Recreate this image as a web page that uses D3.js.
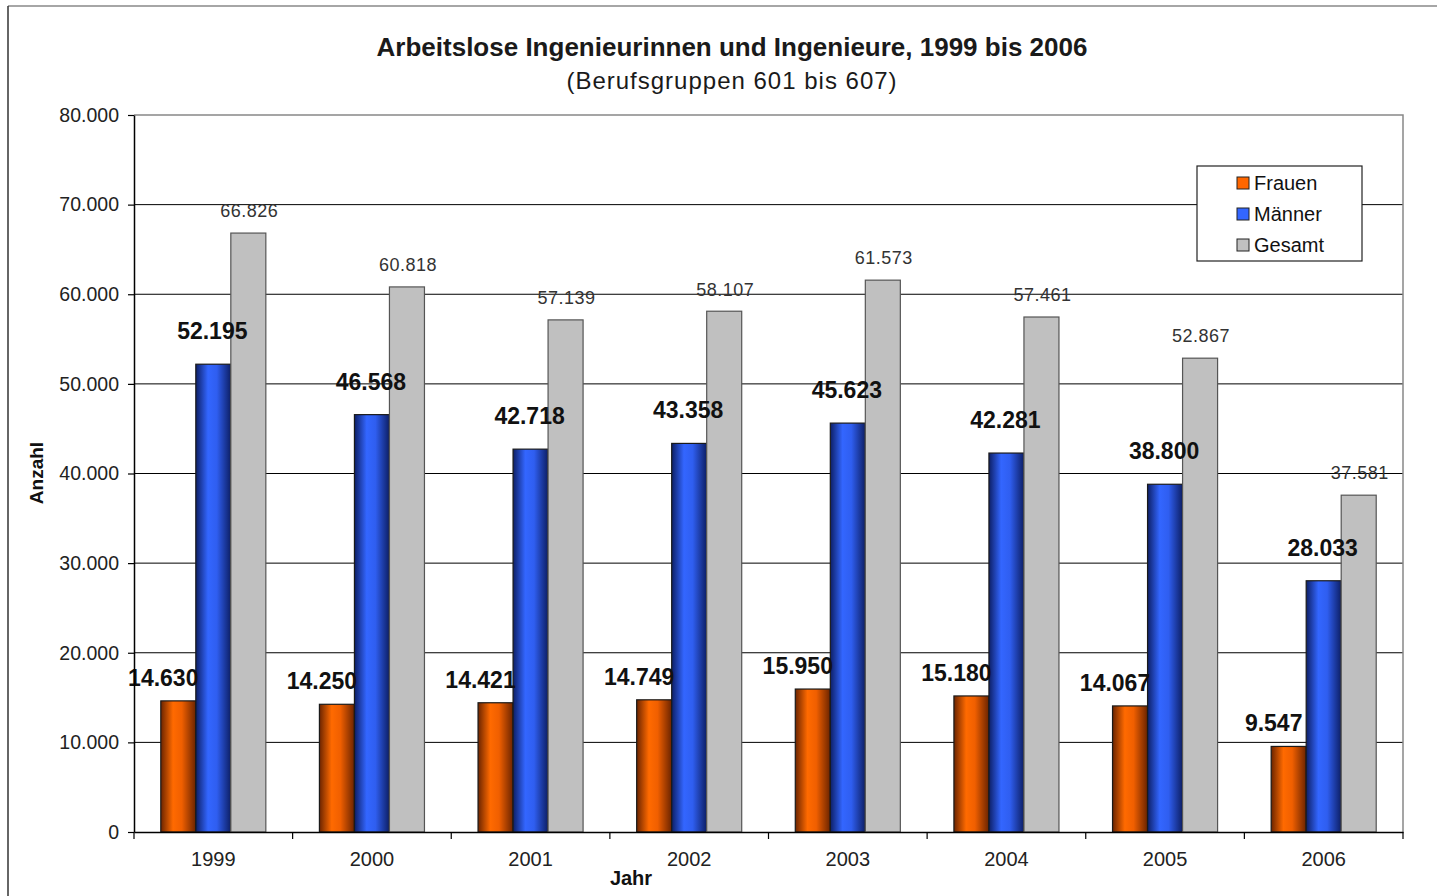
<!DOCTYPE html>
<html>
<head>
<meta charset="utf-8">
<script src="https://cdn.jsdelivr.net/npm/d3@7"></script>
<style>
  body { margin: 0; background: #fff; }
  text { font-family: "Liberation Sans", Arial, sans-serif; }
</style>
</head>
<body>
<div id="chart"></div>
<script>
// data
var years = ["1999", "2000", "2001", "2002", "2003", "2004", "2005", "2006"]
var seriesNames = ["Frauen", "Männer", "Gesamt"]
var frauen = [14630, 14250, 14421, 14749, 15950, 15180, 14067, 9547]
var maenner = [52195, 46568, 42718, 43358, 45623, 42281, 38800, 28033]
var gesamt = [66826, 60818, 57139, 58107, 61573, 57461, 52867, 37581]
var yTicks = [0, 10000, 20000, 30000, 40000, 50000, 60000, 70000, 80000]

var width = 1446, height = 896
var margin = {top: 115, right: 43, bottom: 64, left: 134}

var svg = d3.select('#chart').append('svg')
    .attr('width', width)
    .attr('height', height)

// gradients for the cylinder look
var defs = svg.append('defs')
function addGrad(id, dark, mid, light) {
    var g = defs.append('linearGradient').attr('id', id)
        .attr('x1', '0%').attr('x2', '100%').attr('y1', '0%').attr('y2', '0%')
    g.append('stop').attr('offset', '0%').attr('stop-color', dark)
    g.append('stop').attr('offset', '35%').attr('stop-color', light)
    g.append('stop').attr('offset', '60%').attr('stop-color', mid)
    g.append('stop').attr('offset', '100%').attr('stop-color', dark)
}
addGrad('gradF', '#6b2400', '#f05f00', '#ff6a00')
addGrad('gradM', '#0d1f66', '#2f5ef0', '#3366ff')

var fills = ['url(#gradF)', 'url(#gradM)', '#c0c0c0']
var strokes = ['#1a1a1a', '#1a1a1a', '#555']
var swatch = ['#ff6600', '#3366ff', '#c0c0c0']

// outer frame
svg.append('line').attr('x1', 8).attr('x2', 1437).attr('y1', 6).attr('y2', 6)
    .attr('stroke', '#888').attr('stroke-width', 1.5)
svg.append('line').attr('x1', 8).attr('x2', 8).attr('y1', 6).attr('y2', height)
    .attr('stroke', '#333').attr('stroke-width', 1.5)

var x0 = d3.scaleBand().domain(years)
    .range([margin.left, width - margin.right]).paddingInner(0).paddingOuter(0)
var x1 = d3.scaleBand().domain(seriesNames)
    .range([0, x0.bandwidth()]).paddingOuter(0.765)
var y = d3.scaleLinear().domain([0, 80000]).range([height - margin.bottom, margin.top])

var fmt = function(v) { return d3.format(',')(v).replace(/,/g, '.') }

// gridlines
svg.append('g').selectAll('line').data(yTicks.filter(function(d) { return d > 0 && d < 80000 }))
    .enter().append('line')
    .attr('x1', margin.left).attr('x2', width - margin.right)
    .attr('y1', function(d) { return y(d) }).attr('y2', function(d) { return y(d) })
    .attr('stroke', '#000').attr('stroke-width', 1)

// plot area top & right border
svg.append('path')
    .attr('d', 'M' + margin.left + ',' + y(80000) + 'H' + (width - margin.right) + 'V' + y(0))
    .attr('fill', 'none').attr('stroke', '#888').attr('stroke-width', 1.5)

// bars
var table = [frauen, maenner, gesamt]
years.forEach(function(yr, i) {
    var g = svg.append('g').attr('transform', 'translate(' + x0(yr) + ',0)')
    seriesNames.forEach(function(s, k) {
        var v = table[k][i]
        g.append('rect')
            .attr('x', x1(s))
            .attr('y', y(v))
            .attr('width', x1.bandwidth())
            .attr('height', y(0) - y(v))
            .attr('fill', fills[k])
            .attr('stroke', strokes[k])
            .attr('stroke-width', 1.2)
    })
})

// value labels
var labelStyle = [
    {dx: -15, dy: -23, weight: 'bold', color: '#111', size: 23, ls: 0},
    {dx: -1, dy: -33, weight: 'bold', color: '#111', size: 23, ls: 0},
    {dx: 1, dy: -22, weight: 'normal', color: '#333', size: 18, ls: 0.5}
]
years.forEach(function(yr, i) {
    seriesNames.forEach(function(s, k) {
        var v = table[k][i]
        var st = labelStyle[k]
        svg.append('text')
            .attr('x', x0(yr) + x1(s) + x1.bandwidth() / 2 + st.dx)
            .attr('y', y(v) + st.dy)
            .attr('dy', '0.35em')
            .attr('text-anchor', 'middle')
            .attr('font-size', st.size)
            .attr('letter-spacing', st.ls)
            .attr('font-weight', st.weight)
            .attr('fill', st.color)
            .text(fmt(v))
    })
})

// axes
var yAxis = d3.axisLeft(y).tickValues(yTicks).tickSize(6).tickSizeOuter(0).tickFormat(fmt)
var gy = svg.append('g').attr('transform', 'translate(' + margin.left + ',0)').call(yAxis)
gy.select('.domain').attr('stroke', '#000').attr('stroke-width', 1.5)
gy.selectAll('.tick line').attr('stroke', '#000').attr('stroke-width', 1.2)
gy.selectAll('.tick text').attr('font-size', 19.5).attr('fill', '#222')
    .attr('font-family', '"Liberation Sans", Arial, sans-serif').attr('x', -15)

var xAxis = d3.axisBottom(x0).tickSize(0).tickSizeOuter(0)
var gx = svg.append('g').attr('transform', 'translate(0,' + y(0) + ')').call(xAxis)
gx.select('.domain').attr('stroke', '#000').attr('stroke-width', 1.5)
gx.selectAll('.tick text').attr('font-size', 20).attr('fill', '#222')
    .attr('font-family', '"Liberation Sans", Arial, sans-serif').attr('y', 20)
// category boundary ticks
var bounds = years.map(function(d) { return x0(d) }).concat([x0.range()[1]])
gx.selectAll('.bound').data(bounds).enter().append('line').attr('class', 'bound')
    .attr('x1', function(d) { return d }).attr('x2', function(d) { return d })
    .attr('y1', 0).attr('y2', 7).attr('stroke', '#000').attr('stroke-width', 1.2)

// titles
svg.append('text').attr('x', 732).attr('y', 56).attr('text-anchor', 'middle')
    .attr('font-size', 26).attr('font-weight', 'bold').attr('fill', '#1a1a1a')
    .text('Arbeitslose Ingenieurinnen und Ingenieure, 1999 bis 2006')
svg.append('text').attr('x', 732).attr('y', 89).attr('text-anchor', 'middle')
    .attr('font-size', 24).attr('letter-spacing', 1).attr('fill', '#1a1a1a')
    .text('(Berufsgruppen 601 bis 607)')

svg.append('text').attr('transform', 'translate(43,' + 473 + ') rotate(-90)')
    .attr('text-anchor', 'middle').attr('font-size', 19).attr('font-weight', 'bold')
    .attr('fill', '#111').text('Anzahl')
svg.append('text').attr('x', 631).attr('y', 885).attr('text-anchor', 'middle')
    .attr('font-size', 20).attr('font-weight', 'bold').attr('fill', '#111').text('Jahr')

// legend
var lg = svg.append('g').attr('transform', 'translate(1197,166)')
lg.append('rect').attr('width', 165).attr('height', 95)
    .attr('fill', '#fff').attr('stroke', '#222').attr('stroke-width', 1.2)
seriesNames.forEach(function(s, k) {
    var row = lg.append('g').attr('transform', 'translate(40,' + (17 + k * 31) + ')')
    row.append('rect').attr('x', 0).attr('y', -6).attr('width', 12).attr('height', 12)
        .attr('fill', swatch[k]).attr('stroke', '#222').attr('stroke-width', 1)
    row.append('text').attr('x', 17).attr('dy', '0.35em')
        .attr('font-size', 20).attr('fill', '#111').text(s)
})
</script>
</body>
</html>
